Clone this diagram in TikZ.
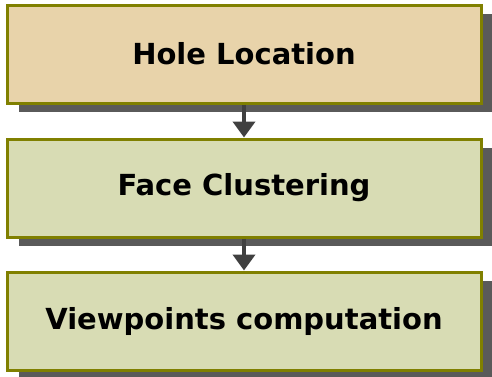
\documentclass[tikz,border=0pt]{standalone}
\usepackage{fontspec}
\setmainfont{DejaVu Sans}
\usetikzlibrary{arrows.meta}
\definecolor{tanfill}{HTML}{E8D3AA}
\definecolor{greenfill}{HTML}{D8DCB4}
\definecolor{olive}{HTML}{808000}
\definecolor{shadowgray}{HTML}{5A5A5A}
\definecolor{arrowgray}{HTML}{404040}
\tikzset{
  stagebox/.style={draw=olive, line width=3pt, minimum width=474pt, minimum height=98pt, inner sep=0pt,
    font=\fontsize{29}{32}\selectfont\bfseries, text=black},
  shadowbox/.style={fill=shadowgray, draw=none, minimum width=474pt, minimum height=98pt, inner sep=0pt},
  flow/.style={draw=arrowgray, line width=4pt, -{Triangle[length=16pt,width=22pt]}}
}
\begin{document}
\begin{tikzpicture}[x=1pt,y=-1pt]
\useasboundingbox (0,0) rectangle (492,376);
\node[shadowbox] at (256,63) {};
\node[shadowbox] at (256,197) {};
\node[shadowbox] at (256,330) {};
\node[stagebox, fill=tanfill] (hole) at (244,54) {Hole Location};
\node[stagebox, fill=greenfill] (face) at (244,188) {Face Clustering};
\node[stagebox, fill=greenfill] (view) at (244,321) {Viewpoints computation};
\draw[flow] (hole.south) -- (face.north);
\draw[flow] (face.south) -- (view.north);
\end{tikzpicture}
\end{document}
